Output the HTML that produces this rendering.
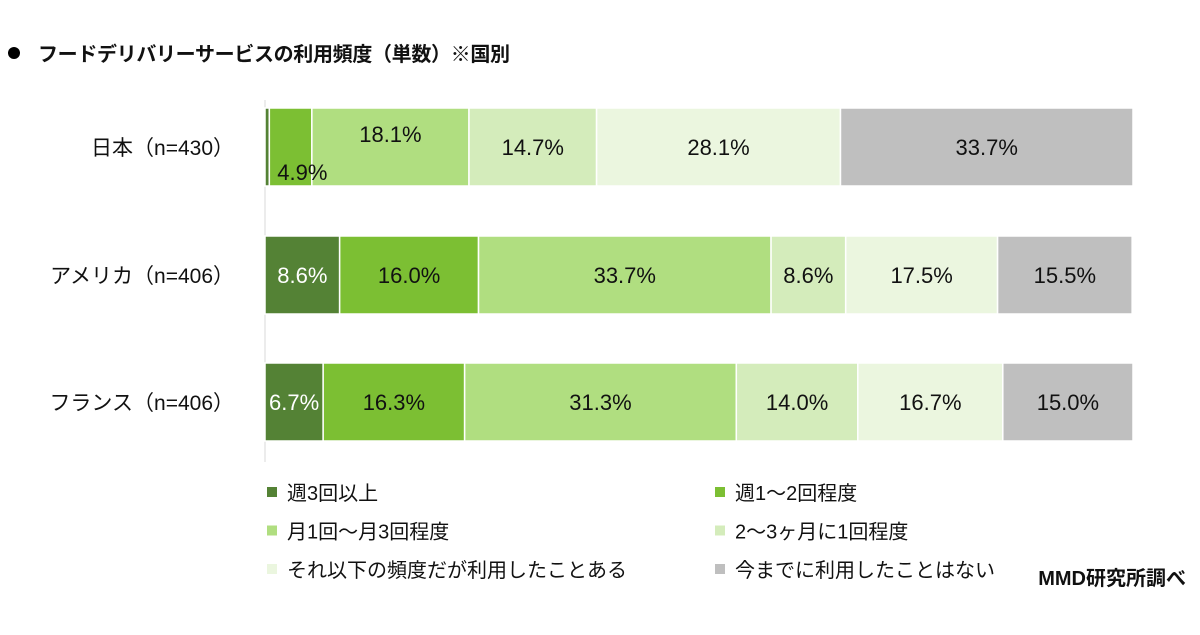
<!DOCTYPE html>
<html><head><meta charset="utf-8"><style>
body{margin:0;background:#fff;width:1200px;height:630px;overflow:hidden;font-family:"Liberation Sans","Noto Sans CJK JP",sans-serif;}
svg text{font-family:"Liberation Sans","Noto Sans CJK JP",sans-serif;}
</style></head><body>
<svg id="chart" width="1200" height="630" xmlns="http://www.w3.org/2000/svg">
<circle cx="14" cy="53" r="6" fill="#000"/>
<text x="38" y="61" font-size="20" font-weight="bold" fill="#111" textLength="472">フードデリバリーサービスの利用頻度（単数）※国別</text>
<text x="1186" y="585" font-size="20" font-weight="bold" fill="#111" text-anchor="end">MMD研究所調べ</text>
<line x1="265" y1="100" x2="265" y2="462" stroke="#d9d9d9" stroke-width="1"/>
<g id="bars"></g><g id="labels"></g><g id="legend"></g>
</svg>
<script>
const categories=["日本（n=430）","アメリカ（n=406）","フランス（n=406）"];
const seriesNames=["週3回以上","週1～2回程度","月1回～月3回程度","2～3ヶ月に1回程度","それ以下の頻度だが利用したことある","今までに利用したことはない"];
const s1=[0.5,8.6,6.7];
const s2=[4.9,16.0,16.3];
const s3=[18.1,33.7,31.3];
const s4=[14.7,8.6,14.0];
const s5=[28.1,17.5,16.7];
const s6=[33.7,15.5,15.0];
const series=[s1,s2,s3,s4,s5,s6];
const colors=["#548235","#7cbf33","#b0de80","#d4ecbb","#ebf6df","#bfbfbf"];
const textColors=["#fff","#111","#111","#111","#111","#111"];
const NS="http://www.w3.org/2000/svg";
const x0=265,x1=1133;
const xs=v=>x0+(x1-x0)*v/100;
const rowTop=[108,236,363],barH=78;
const g=document.getElementById('bars');
const gl=document.getElementById('labels');
categories.forEach((c,i)=>{
  const t=document.createElementNS(NS,'text');
  t.setAttribute('x',234);t.setAttribute('y',rowTop[i]+barH/2+8);
  t.setAttribute('text-anchor','end');t.setAttribute('font-size','21');t.setAttribute('fill','#111');
  t.textContent=c;
  
  
  g.appendChild(t);
  let cum=0;
  series.forEach((s,j)=>{
    const v=s[i];const a=xs(cum),b=xs(cum+v);cum+=v;
    const r=document.createElementNS(NS,'rect');
    r.setAttribute('x',a);r.setAttribute('y',rowTop[i]);r.setAttribute('width',Math.max(b-a,0));r.setAttribute('height',barH);
    r.setAttribute('fill',colors[j]);r.setAttribute('stroke','#fff');r.setAttribute('stroke-width','1.5');
    
    
    g.appendChild(r);
    if(v>=2){
      const l=document.createElementNS(NS,'text');
      let ly=rowTop[i]+barH/2+8, lx=(a+b)/2;
      if(i===0&&j===1){ly=rowTop[i]+72;lx=a+33;}
      if(i===0&&j===2){ly=rowTop[i]+34;}
      l.setAttribute('x',lx);l.setAttribute('y',ly);l.setAttribute('text-anchor','middle');
      l.setAttribute('font-size','22');l.setAttribute('fill',textColors[j]);
      l.textContent=v.toFixed(1)+'%';
      
      
      gl.appendChild(l);
    }
  });
});
const lg=document.getElementById('legend');
seriesNames.forEach((n,j)=>{
  const col=j%2,row=Math.floor(j/2);
  const x=col?720:272,y=492+row*38.5;
  const r=document.createElementNS(NS,'rect');
  r.setAttribute('x',x-5);r.setAttribute('y',y-5);r.setAttribute('width',10);r.setAttribute('height',10);r.setAttribute('fill',colors[j]);
  
  
  lg.appendChild(r);
  const t=document.createElementNS(NS,'text');
  t.setAttribute('x',x+15);t.setAttribute('y',y+8);t.setAttribute('font-size','20');t.setAttribute('fill','#111');
  t.textContent=n;
  
  
  lg.appendChild(t);
});
</script>
</body></html>
